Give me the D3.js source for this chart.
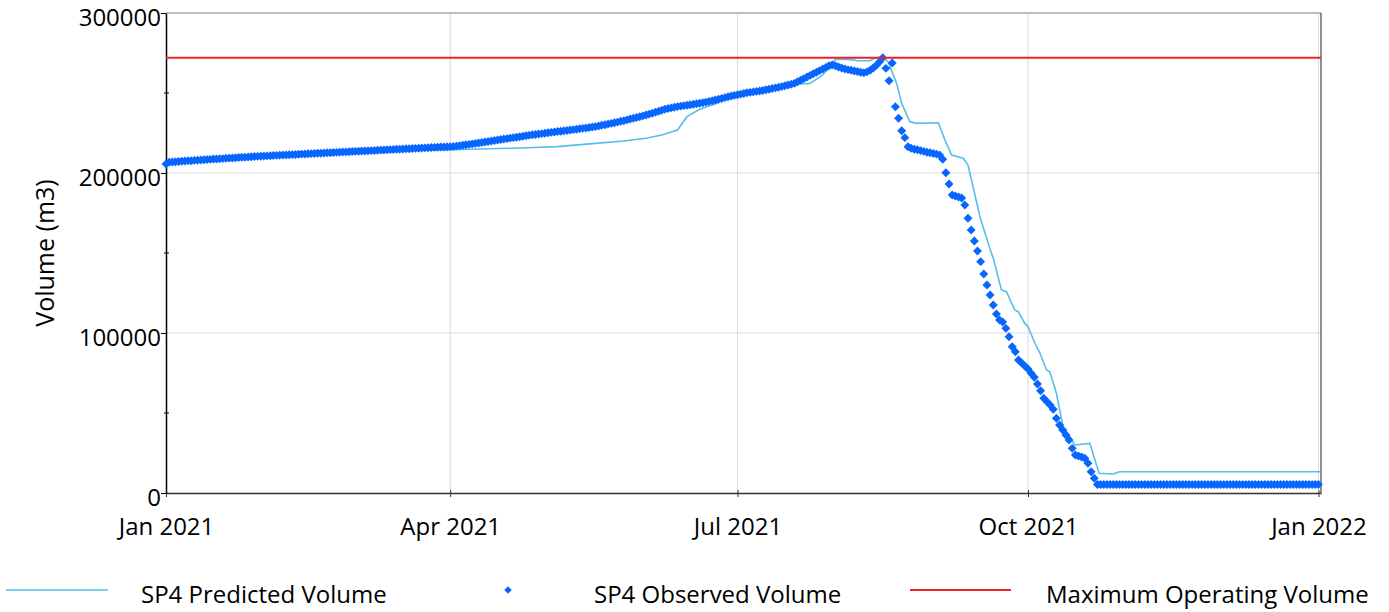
<!DOCTYPE html>
<html lang="en">
<head>
<meta charset="UTF-8">
<title>SP4 Volume</title>
<script src="https://d3js.org/d3.v7.min.js"></script>
<style>
  body { margin: 0; padding: 0; background: #ffffff; }
  svg { display: block; font-family: "Open Sans", sans-serif; }
  .axis text { font-size: 24px; fill: #000; font-family: "Open Sans", sans-serif; }
  .legend text { font-size: 24px; fill: #000; }
</style>
</head>
<body>
<div id="chart"></div>
<script>
// ---- data ----
const startDate = new Date(2021, 0, 1);

// predicted volume: day offset from 1 Jan 2021 and volume (m3)
const predictedDays = [0, 15, 30, 45, 60, 75, 90, 96, 110, 124, 136, 145, 152, 157, 162, 165, 169, 174.5, 176,
  182, 190, 198, 204, 208, 212, 216.6, 219, 223, 224.5, 227, 228.7, 231.4, 233, 235.6, 237.7, 244.6, 246.7,
  248.8, 252.5, 254, 255.1, 257.8, 260.7, 262, 264.6, 266.2, 268.8, 269.9, 272, 273, 275.2, 276.8, 278.9,
  279.9, 282, 284.1, 286.3, 287.8, 292.6, 295.5, 300, 302, 365.8];
const predictedVolumes = [205600, 208000, 209900, 211500, 212800, 213900, 214600, 214800, 215500, 216500, 218500,
  220000, 221700, 223750, 226900, 235200, 239800, 243500, 246000,
  249500, 252000, 255500, 256000, 261250, 271000, 271000, 270200, 270200, 271700, 272700, 269600, 256000,
  243500, 232000, 231000, 231400, 220600, 211250, 209200, 205000, 195600, 172700, 154000, 146700, 126900,
  125800, 114400, 113300, 106000, 103900, 93600, 87300, 76900, 75800, 62300, 41400, 35200, 30000, 31000,
  12300, 11900, 13300, 13300];

// observed volume: one value per day from 1 Jan 2021 to 1 Jan 2022
const observedVolumes = [
  205600, 206700, 206900, 207000, 207200, 207300, 207500, 207600, 207700, 207900,
  208000, 208100, 208300, 208400, 208500, 208700, 208800, 208900, 209000, 209200,
  209300, 209400, 209500, 209700, 209800, 209900, 210000, 210100, 210300, 210400,
  210500, 210600, 210700, 210800, 210900, 211000, 211100, 211200, 211300, 211400,
  211500, 211600, 211700, 211800, 211900, 212000, 212100, 212200, 212300, 212400,
  212500, 212600, 212700, 212800, 212900, 213000, 213100, 213200, 213300, 213400,
  213500, 213600, 213700, 213800, 213900, 214000, 214100, 214200, 214300, 214400,
  214500, 214600, 214700, 214800, 214900, 215000, 215100, 215200, 215300, 215400,
  215500, 215600, 215700, 215800, 215900, 216000, 216100, 216200, 216300, 216350,
  216400, 216600, 216800, 217000, 217300, 217600, 217900, 218200, 218500, 218800,
  219100, 219400, 219700, 220000, 220300, 220600, 220900, 221200, 221500, 221800,
  222100, 222400, 222700, 223000, 223300, 223600, 223900, 224100, 224400, 224600,
  224900, 225100, 225400, 225600, 225900, 226100, 226400, 226600, 226900, 227100,
  227400, 227600, 227900, 228100, 228400, 228700, 229000, 229400, 229800, 230200,
  230600, 231000, 231400, 231800, 232300, 232700, 233200, 233700, 234200, 234700,
  235200, 235700, 236200, 236800, 237400, 238000, 238600, 239200, 239800, 240300,
  240700, 241100, 241500, 241800, 242100, 242400, 242700, 243000, 243300, 243600,
  243900, 244300, 244700, 245100, 245600, 246100, 246600, 247100, 247600, 248100,
  248500, 248900, 249300, 249700, 250100, 250400, 250700, 251000, 251300, 251600,
  252000, 252400, 252800, 253200, 253600, 254000, 254500, 255000, 255500, 256000,
  257000, 258000, 259000, 260000, 261000, 262000, 263000, 264000, 265000, 266000,
  267000, 267500, 267000, 266200, 265600, 265000, 264600, 264200, 263800, 263400,
  263000, 262600, 263200, 264200, 265600, 267300, 269500, 272000, 265400, 257700,
  268800, 241400, 234200, 226400, 222100, 216400, 215500, 214900, 214500, 214000,
  213500, 213000, 212600, 212200, 211800, 211250, 208600, 200200, 193100, 186250,
  185600, 185000, 184400, 180000, 171700, 164400, 157500, 151250, 144600, 136900,
  130000, 123750, 117500, 111900, 108100, 106900, 102900, 97700, 91400, 88300,
  83100, 81250, 79400, 77500, 74800, 72300, 68100, 63900, 59200, 57100,
  55000, 52300, 46700, 42500, 39400, 36250, 33100, 27900, 23750, 23100,
  22500, 21700, 18600, 13300, 9200, 5300, 5300, 5300, 5300, 5300,
  5300, 5300, 5300, 5300, 5300, 5300, 5300, 5300, 5300, 5300,
  5300, 5300, 5300, 5300, 5300, 5300, 5300, 5300, 5300, 5300,
  5300, 5300, 5300, 5300, 5300, 5300, 5300, 5300, 5300, 5300,
  5300, 5300, 5300, 5300, 5300, 5300, 5300, 5300, 5300, 5300,
  5300, 5300, 5300, 5300, 5300, 5300, 5300, 5300, 5300, 5300,
  5300, 5300, 5300, 5300, 5300, 5300, 5300, 5300, 5300, 5300,
  5300, 5300, 5300, 5300, 5300, 5300
];

const maxOperatingVolume = 272000;

const xTickDates = [new Date(2021, 0, 1), new Date(2021, 3, 1), new Date(2021, 6, 1), new Date(2021, 9, 1), new Date(2022, 0, 1)];
const xTickLabels = ["Jan 2021", "Apr 2021", "Jul 2021", "Oct 2021", "Jan 2022"];
const yTicks = [0, 100000, 200000, 300000];
const yMinorTicks = [50000, 150000, 250000];
const seriesNames = ["SP4 Predicted Volume", "SP4 Observed Volume", "Maximum Operating Volume"];

// ---- layout ----
const width = 1389, height = 612;
const plotLeft = 166, plotRight = 1321, plotTop = 13, plotBottom = 493;
const predColor = "#55bfe9", obsColor = "#0866ff", maxColor = "#f0202a";

const dayToDate = d => new Date(startDate.getTime() + d * 864e5);

const x = d3.scaleTime()
  .domain([startDate, dayToDate(365.8)])
  .range([plotLeft, plotRight]);
const y = d3.scaleLinear().domain([0, 300000]).range([plotBottom, plotTop]);

const svg = d3.select("#chart").append("svg")
  .attr("width", width).attr("height", height);

// gridlines
svg.append("g").selectAll("line").data(yTicks.slice(1, -1)).join("line")
  .attr("x1", plotLeft).attr("x2", plotRight)
  .attr("y1", d => y(d)).attr("y2", d => y(d))
  .attr("stroke", "#dedede").attr("stroke-width", 1.2);
svg.append("g").selectAll("line").data(xTickDates.slice(1)).join("line")
  .attr("x1", d => x(d)).attr("x2", d => x(d))
  .attr("y1", plotTop).attr("y2", plotBottom)
  .attr("stroke", "#dedede").attr("stroke-width", 1.2);

// frame
svg.append("line").attr("x1", plotLeft).attr("x2", plotRight).attr("y1", plotTop).attr("y2", plotTop)
  .attr("stroke", "#a8a8a8").attr("stroke-width", 1.5);
svg.append("line").attr("x1", plotRight).attr("x2", plotRight).attr("y1", plotTop).attr("y2", plotBottom)
  .attr("stroke", "#444").attr("stroke-width", 1.2);

// x axis
const xAxis = svg.append("g").attr("class", "axis")
  .attr("transform", `translate(0,${plotBottom})`)
  .call(d3.axisBottom(x).tickValues(xTickDates).tickFormat((d, i) => xTickLabels[i]).tickSizeOuter(0));
xAxis.select(".domain").attr("stroke", "#333").attr("stroke-width", 1.5);
xAxis.selectAll(".tick line").attr("y1", -3).attr("y2", 4).attr("stroke", "#333");
xAxis.selectAll(".tick text").attr("y", 42).attr("dy", 0);

// y axis
const yAxis = svg.append("g").attr("class", "axis")
  .attr("transform", `translate(${plotLeft},0)`)
  .call(d3.axisLeft(y).tickValues(yTicks).tickFormat(d3.format("d")).tickSize(5).tickPadding(0).tickSizeOuter(0));
yAxis.select(".domain").attr("stroke", "#000").attr("stroke-width", 1.5);
yAxis.selectAll(".tick text").attr("dy", "0.53em");
yAxis.append("g").selectAll("line").data(yMinorTicks).join("line")
  .attr("x1", -2).attr("x2", 3)
  .attr("y1", d => y(d)).attr("y2", d => y(d))
  .attr("stroke", "#000");

svg.append("text")
  .attr("transform", `translate(54,${(plotTop + plotBottom) / 2}) rotate(-90)`)
  .attr("text-anchor", "middle")
  .style("font-size", "25px")
  .text("Volume (m3)");

// predicted line
const predicted = predictedDays.map((d, i) => ({ date: dayToDate(d), value: predictedVolumes[i] }));
svg.append("path").datum(predicted)
  .attr("fill", "none").attr("stroke", predColor).attr("stroke-width", 1.6)
  .attr("d", d3.line().x(d => x(d.date)).y(d => y(d.value)));

// observed diamonds
const diamond = d3.symbol().type(d3.symbolSquare).size(40);
const observed = observedVolumes.map((v, i) => ({ date: dayToDate(i), value: v }));
svg.append("g").selectAll("path").data(observed).join("path")
  .attr("d", diamond)
  .attr("transform", d => `translate(${x(d.date)},${y(d.value)}) rotate(45)`)
  .attr("fill", obsColor);

// maximum operating volume
svg.append("line")
  .attr("x1", plotLeft).attr("x2", plotRight)
  .attr("y1", y(maxOperatingVolume)).attr("y2", y(maxOperatingVolume))
  .attr("stroke", maxColor).attr("stroke-width", 2);

// legend
const legend = svg.append("g").attr("class", "legend");
const legendY = 590;
legend.append("line").attr("x1", 6).attr("x2", 108).attr("y1", legendY).attr("y2", legendY)
  .attr("stroke", predColor).attr("stroke-width", 1.6);
legend.append("text").attr("x", 141).attr("y", 603).text(seriesNames[0]);
legend.append("path").attr("d", d3.symbol().type(d3.symbolSquare).size(28))
  .attr("transform", `translate(508,${legendY}) rotate(45)`).attr("fill", obsColor);
legend.append("text").attr("x", 594).attr("y", 603).text(seriesNames[1]);
legend.append("line").attr("x1", 910).attr("x2", 1011).attr("y1", legendY).attr("y2", legendY)
  .attr("stroke", maxColor).attr("stroke-width", 2);
legend.append("text").attr("x", 1046).attr("y", 603).text(seriesNames[2]);
</script>
</body>
</html>
